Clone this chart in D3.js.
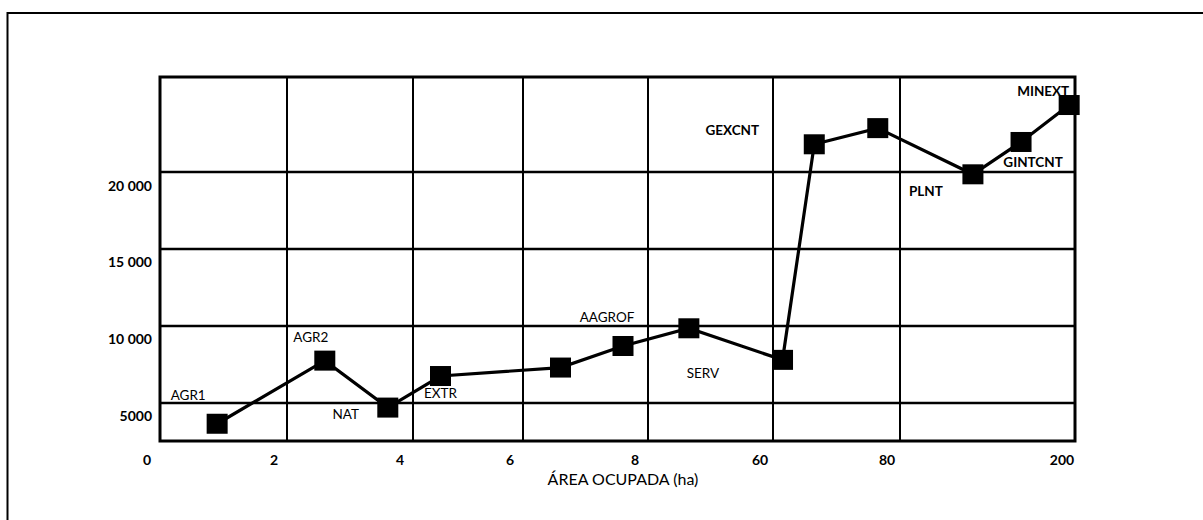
<!DOCTYPE html>
<html>
<head>
<meta charset="utf-8">
<script src="https://cdn.jsdelivr.net/npm/d3@7"></script>
<style>
  html, body { margin: 0; padding: 0; background: #fff; }
  svg { display: block; }
  text { font-family: Lato, "Open Sans", sans-serif; fill: #000; }
</style>
</head>
<body>
<svg id="chart" width="1203" height="520"></svg>
<script>
// ---- data ----
const xTicks = [0, 2, 4, 6, 8, 60, 80, 200];
const xTickLabels = ["0", "2", "4", "6", "8", "60", "80", "200"];
const yTicks = [5000, 10000, 15000, 20000];
const yTickLabels = ["5000", "10 000", "15 000", "20 000"];
const areaHa = [0.9, 2.6, 3.6, 4.5, 6.6, 7.6, 25, 61.5, 66.5, 76.5, 130, 163, 196];
const values = [3650, 7750, 4700, 6750, 7300, 8700, 9850, 7800, 21800, 22850, 19850, 21950, 24350];
const pointLabels = ["AGR1", "AGR2", "NAT", "EXTR", "", "AAGROF", "SERV", "", "GEXCNT", "", "PLNT", "GINTCNT", "MINEXT"];
const xTitle = "ÁREA OCUPADA (ha)";

// ---- layout ----
const svg = d3.select("#chart");
const mLeft = 160, mTop = 77, pW = 915, pH = 364;
const colWidths = [127, 126, 110, 125, 125, 127, 175];
const labelOffsets = [[-29,-29],[-14,-24],[-42,6],[0,17],[0,0],[-16,-29],[14,45],[0,0],[-82,-14],[0,0],[-47,17],[12,20],[-26,-14]];
const boldLabels = ["GEXCNT", "MINEXT", "GINTCNT", "PLNT"];

// outer frame (top and left edges visible)
svg.append("rect").attr("x", 7.5).attr("y", 13).attr("width", 1210).attr("height", 520)
  .attr("fill", "none").attr("stroke", "#000").attr("stroke-width", 2);

const xRange = [0];
colWidths.forEach(w => xRange.push(xRange[xRange.length - 1] + w));
const x = d3.scaleLinear().domain(xTicks).range(xRange.map(r => mLeft + r));
const y = d3.scaleLinear().domain([2530, 26170]).range([mTop + pH, mTop]);

const g = svg.append("g");

// horizontal grid
g.selectAll("line.hg").data(yTicks).join("line")
  .attr("x1", mLeft).attr("x2", mLeft + pW)
  .attr("y1", d => y(d)).attr("y2", d => y(d))
  .attr("stroke", "#000").attr("stroke-width", 2.5);

// vertical grid
g.selectAll("line.vg").data(xTicks.slice(1, -1)).join("line")
  .attr("x1", d => x(d)).attr("x2", d => x(d))
  .attr("y1", mTop).attr("y2", mTop + pH)
  .attr("stroke", "#000").attr("stroke-width", 2);

// plot frame
g.append("rect").attr("x", mLeft).attr("y", mTop).attr("width", pW).attr("height", pH)
  .attr("fill", "none").attr("stroke", "#000").attr("stroke-width", 3);

// x tick labels
g.selectAll("text.xt").data(xTicks).join("text")
  .attr("x", d => x(d) - 13).attr("y", mTop + pH + 18)
  .attr("text-anchor", "middle").attr("dominant-baseline", "central")
  .attr("font-size", 14).attr("font-weight", "bold")
  .text((d, i) => xTickLabels[i]);

// y tick labels
g.selectAll("text.yt").data(yTicks).join("text")
  .attr("x", mLeft - 8).attr("y", d => y(d) + 13)
  .attr("text-anchor", "end").attr("dominant-baseline", "central")
  .attr("font-size", 14).attr("font-weight", "bold")
  .text((d, i) => yTickLabels[i]);

// x title
g.append("text").attr("x", 623).attr("y", 478)
  .attr("text-anchor", "middle").attr("dominant-baseline", "central")
  .attr("font-size", 16).text(xTitle);

// line
const pts = areaHa.map((a, i) => [a, values[i]]);
g.append("path").datum(pts)
  .attr("d", d3.line().x(d => x(d[0])).y(d => y(d[1])))
  .attr("fill", "none").attr("stroke", "#000").attr("stroke-width", 3.2);

// markers
g.selectAll("rect.m").data(pts).join("rect")
  .attr("x", d => x(d[0]) - 10.5).attr("y", d => y(d[1]) - 10)
  .attr("width", 21).attr("height", 20).attr("fill", "#000");

// point labels
g.selectAll("text.pl").data(pts).join("text")
  .attr("x", (d, i) => x(d[0]) + labelOffsets[i][0])
  .attr("y", (d, i) => y(d[1]) + labelOffsets[i][1])
  .attr("text-anchor", "middle").attr("dominant-baseline", "central")
  .attr("font-size", 13.5)
  .attr("font-weight", (d, i) => boldLabels.includes(pointLabels[i]) ? "bold" : "normal")
  .text((d, i) => pointLabels[i]);
</script>
</body>
</html>
